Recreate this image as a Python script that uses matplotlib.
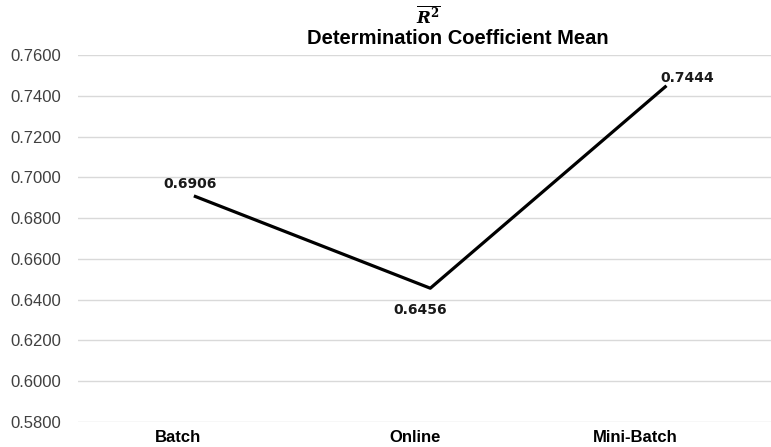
import matplotlib
matplotlib.use("Agg")
import matplotlib.pyplot as plt
import matplotlib.transforms as mtransforms
from matplotlib.ticker import FormatStrFormatter

# data
methods = ["Batch", "Online", "Mini-Batch"]
r2_mean = [0.6906, 0.6456, 0.7444]
yticks = [0.58, 0.60, 0.62, 0.64, 0.66, 0.68, 0.70, 0.72, 0.74, 0.76]

fig = plt.figure(figsize=(7.71, 4.47), dpi=100)
ax = fig.add_axes([0.101, 0.056, 0.899, 0.821])

xs = list(range(len(methods)))
ax.plot(xs, r2_mean, color="black", lw=2.3, zorder=3)

# value labels
offsets = [(-5, 12, "center"), (-10, -22, "center"), (-5, 9, "left")]
for x, v, (dx, dy, ha) in zip(xs, r2_mean, offsets):
    ax.annotate("%.4f" % v, (x, v), xytext=(dx, dy), textcoords="offset pixels",
                ha=ha, va="center", fontsize=10, fontweight="bold",
                family="DejaVu Sans", color="#1a1a1a")

ax.set_xlim(-0.5, 2.45)
ax.set_ylim(0.58, 0.76)
ax.set_yticks(yticks)
ax.yaxis.set_major_formatter(FormatStrFormatter("%.4f"))
ax.set_xticks(xs)
ax.set_xticklabels(methods, fontsize=12, fontweight="bold", family="Liberation Sans")
ax.tick_params(axis="x", length=0, pad=6)
ax.tick_params(axis="y", length=0, pad=12, labelsize=12, labelcolor="#404040")
for lab in ax.get_yticklabels():
    lab.set_family("Liberation Sans")

# category labels sit a little left of their points in the original
shifts = [-17, -15, -30]
for lab, dx in zip(ax.get_xticklabels(), shifts):
    lab.set_transform(lab.get_transform() + mtransforms.ScaledTranslation(dx / 100, 0, fig.dpi_scale_trans))

ax.grid(axis="y", color="#d9d9d9", lw=1)
ax.set_axisbelow(True)
for s in ax.spines.values():
    s.set_visible(False)

fig.text(458 / 771, 1 - 38 / 447, "Determination Coefficient Mean", ha="center", va="center",
         fontsize=14.5, fontweight="bold", family="Liberation Sans")
fig.text(428 / 771, 1 - 17 / 447, r"$\overline{\boldsymbol{R}^{\mathbf{2}}}$", ha="center", va="center",
         fontsize=12, math_fontfamily="dejavuserif")

fig.savefig("out.png", dpi=100)
